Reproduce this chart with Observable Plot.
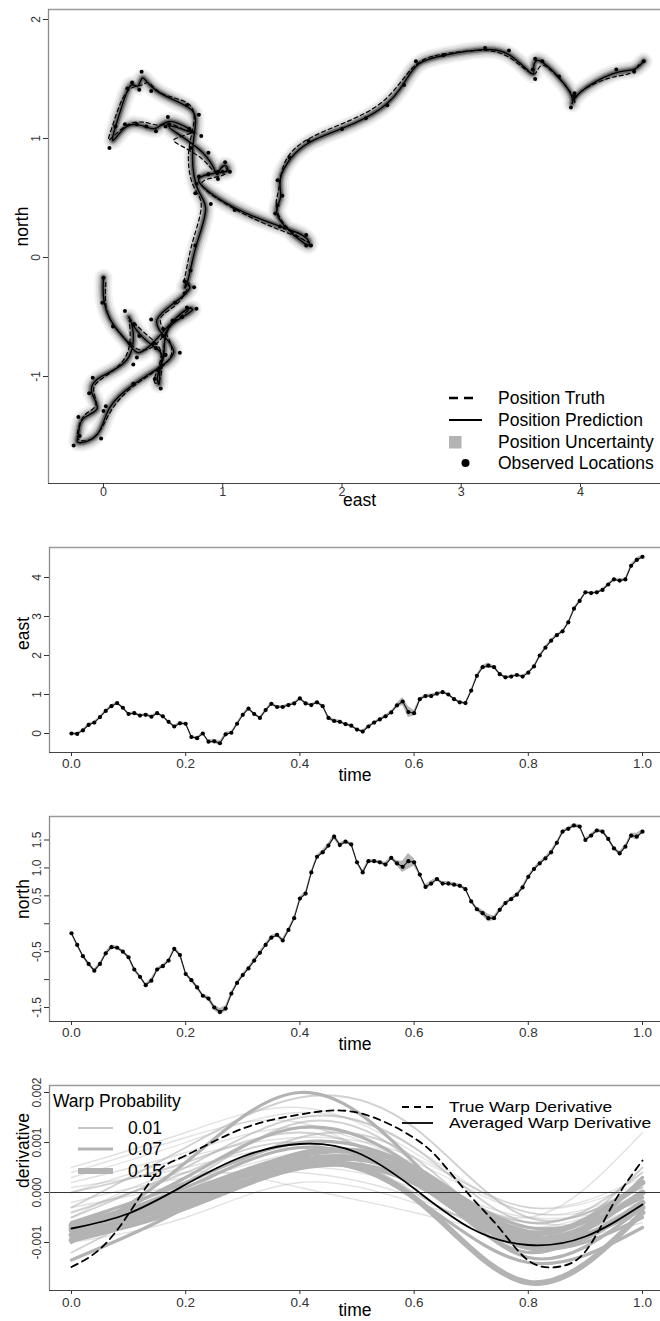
<!DOCTYPE html>
<html><head><meta charset="utf-8">
<script src="https://cdn.jsdelivr.net/npm/d3@7"></script>
<script src="https://cdn.jsdelivr.net/npm/@observablehq/plot@0.6"></script>
<style>
body{margin:0;background:#fff;overflow:hidden;font-family:"Liberation Sans",Arial,Helvetica,sans-serif;}
#wrap{position:relative;width:660px;height:1321px;overflow:hidden;}
.leg{position:absolute;white-space:nowrap;color:#000;}
.leg svg{position:absolute;overflow:visible;}
.leg span{position:absolute;}
</style></head><body><div id="wrap"></div>
<script>
// ---------------- DATA ----------------
const time = [0.00,0.01,0.02,0.03,0.04,0.05,0.06,0.07,0.08,0.09,
  0.10,0.11,0.12,0.13,0.14,0.15,0.16,0.17,0.18,0.19,
  0.20,0.21,0.22,0.23,0.24,0.25,0.26,0.27,0.28,0.29,
  0.30,0.31,0.32,0.33,0.34,0.35,0.36,0.37,0.38,0.39,
  0.40,0.41,0.42,0.43,0.44,0.45,0.46,0.47,0.48,0.49,
  0.50,0.51,0.52,0.53,0.54,0.55,0.56,0.57,0.58,0.59,
  0.60,0.61,0.62,0.63,0.64,0.65,0.66,0.67,0.68,0.69,
  0.70,0.71,0.72,0.73,0.74,0.75,0.76,0.77,0.78,0.79,
  0.80,0.81,0.82,0.83,0.84,0.85,0.86,0.87,0.88,0.89,
  0.90,0.91,0.92,0.93,0.94,0.95,0.96,0.97,0.98,0.99,
  1.00];
const east = [0.00,-0.01,0.08,0.22,0.28,0.42,0.58,0.70,0.78,0.66,
  0.50,0.52,0.46,0.48,0.43,0.52,0.44,0.30,0.18,0.26,
  0.25,-0.09,-0.12,0.00,-0.21,-0.20,-0.25,-0.02,0.02,0.25,
  0.48,0.64,0.50,0.40,0.60,0.76,0.68,0.68,0.73,0.77,
  0.90,0.77,0.73,0.80,0.70,0.40,0.32,0.30,0.24,0.20,
  0.10,0.05,0.18,0.28,0.36,0.44,0.54,0.72,0.82,0.55,
  0.52,0.88,0.96,0.96,1.02,1.06,1.00,0.88,0.80,0.78,
  1.10,1.48,1.70,1.74,1.70,1.52,1.44,1.46,1.50,1.46,
  1.56,1.72,2.00,2.20,2.38,2.52,2.62,2.85,3.20,3.40,
  3.62,3.60,3.62,3.68,3.82,3.95,3.92,3.95,4.30,4.45,
  4.53];
const north = [-0.17,-0.38,-0.58,-0.72,-0.84,-0.72,-0.53,-0.42,-0.43,-0.50,
  -0.60,-0.82,-0.95,-1.10,-1.02,-0.82,-0.76,-0.66,-0.45,-0.56,
  -0.90,-1.01,-1.14,-1.29,-1.34,-1.50,-1.58,-1.52,-1.25,-1.06,
  -0.92,-0.80,-0.66,-0.52,-0.38,-0.25,-0.20,-0.30,-0.11,0.10,
  0.45,0.54,0.92,1.20,1.28,1.40,1.56,1.41,1.47,1.42,
  1.10,0.92,1.12,1.12,1.10,1.06,1.18,1.08,1.02,1.12,
  1.10,0.88,0.66,0.72,0.80,0.72,0.72,0.70,0.68,0.62,
  0.40,0.26,0.19,0.10,0.10,0.25,0.37,0.44,0.52,0.65,
  0.84,0.98,1.08,1.17,1.28,1.45,1.65,1.70,1.76,1.74,
  1.50,1.58,1.67,1.65,1.52,1.35,1.26,1.38,1.58,1.56,
  1.65];
const posSd = [0.03,0.03,0.03,0.04,0.03,0.03,0.03,0.04,0.03,0.03,
  0.03,0.04,0.03,0.03,0.04,0.03,0.03,0.03,0.03,0.04,
  0.03,0.03,0.04,0.03,0.04,0.05,0.06,0.05,0.03,0.03,
  0.03,0.03,0.04,0.03,0.03,0.04,0.03,0.04,0.03,0.03,
  0.03,0.04,0.03,0.03,0.04,0.04,0.05,0.04,0.03,0.03,
  0.03,0.04,0.03,0.03,0.03,0.04,0.03,0.05,0.10,0.14,
  0.07,0.03,0.04,0.05,0.03,0.03,0.04,0.03,0.03,0.03,
  0.03,0.04,0.05,0.07,0.04,0.03,0.03,0.03,0.03,0.03,
  0.03,0.03,0.03,0.03,0.04,0.03,0.03,0.03,0.04,0.03,
  0.03,0.03,0.03,0.03,0.04,0.03,0.04,0.03,0.04,0.06,
  0.04];
const truthEast = [0.02,0.01,0.06,0.19,0.30,0.45,0.56,0.67,0.76,0.69,
  0.53,0.50,0.49,0.46,0.40,0.50,0.47,0.33,0.20,0.23,
  0.22,-0.06,-0.10,-0.03,-0.18,-0.22,-0.23,-0.05,0.05,0.22,
  0.45,0.61,0.53,0.43,0.63,0.73,0.71,0.66,0.70,0.74,
  0.86,0.74,0.69,0.78,0.74,0.46,0.38,0.33,0.27,0.16,
  0.06,0.02,0.14,0.26,0.39,0.47,0.57,0.70,0.78,0.60,
  0.56,0.85,0.93,0.99,1.00,1.04,1.03,0.91,0.83,0.80,
  1.13,1.45,1.67,1.73,1.72,1.55,1.46,1.44,1.47,1.48,
  1.53,1.70,1.97,2.18,2.36,2.50,2.64,2.88,3.18,3.38,
  3.60,3.63,3.66,3.71,3.85,3.97,3.94,3.97,4.27,4.42,
  4.49];
const truthNorth = [-0.21,-0.41,-0.55,-0.70,-0.80,-0.75,-0.56,-0.45,-0.40,-0.47,
  -0.57,-0.79,-0.98,-1.07,-1.05,-0.85,-0.73,-0.63,-0.48,-0.59,
  -0.87,-1.04,-1.11,-1.26,-1.31,-1.47,-1.55,-1.54,-1.28,-1.09,
  -0.95,-0.83,-0.63,-0.50,-0.41,-0.22,-0.17,-0.27,-0.08,0.13,
  0.48,0.57,0.88,1.16,1.32,1.36,1.50,1.44,1.45,1.38,
  1.05,0.95,1.08,1.15,1.13,1.10,1.14,1.05,1.06,1.00,
  0.98,0.84,0.69,0.75,0.77,0.75,0.69,0.67,0.65,0.59,
  0.38,0.24,0.16,0.12,0.12,0.23,0.35,0.47,0.55,0.67,
  0.86,1.00,1.11,1.20,1.31,1.48,1.67,1.72,1.75,1.72,
  1.52,1.55,1.62,1.62,1.48,1.32,1.28,1.40,1.53,1.53,
  1.62];

// warp derivative samples (values in units of 0.001)
const warpKnots = [0, 0.2, 0.4, 0.6, 0.8, 1.0];
const warpProb = [0.01,0.01,0.01,0.01,0.01,0.01,0.01,0.01,0.01,0.01,0.01,
  0.03,0.03,0.03,0.03,0.03,0.03,
  0.07,0.07,0.07,0.07,0.07,0.07,
  0.15,0.15,0.15,0.15,0.15];
const warpValues = [
  [0.3, 1.0, 1.6, 0.9, -0.4, 0.1],
  [0.5, 1.2, 1.7, 0.8, -0.3, 0.3],
  [-0.2, 0.3, 0.4, -0.1, -0.9, -0.6],
  [0.1, 0.5, 0.9, 0.3, -0.5, -0.2],
  [-1.0, -0.5, 0.2, -0.2, -0.7, -0.4],
  [0.2, 0.8, 1.3, 0.5, -0.5, 1.2],
  [-0.5, 0.4, 0.1, -0.4, -0.8, -0.3],
  [0.4, 1.1, 1.4, 0.2, -0.7, 0.0],
  [-0.3, 0.2, 0.8, 0.6, -0.4, -0.1],
  [-0.6, 0.0, 0.5, 0.1, -0.6, -0.5],
  [0.0, 0.7, 1.1, 0.7, -0.3, 0.2],
  [-0.3, 0.9, 1.9, 1.3, -0.5, 0.2],
  [-0.5, 0.5, 1.5, 0.9, -0.6, 0.4],
  [-1.2, 0.0, 1.1, 0.7, -0.9, 0.5],
  [0.0, 0.6, 1.2, 0.4, -0.6, 0.1],
  [-0.4, 0.4, 1.0, 0.0, -0.9, -0.3],
  [-0.7, 0.2, 1.4, 0.6, -1.2, 0.3],
  [-1.0, 0.6, 2.0, 0.6, -1.3, -0.3],
  [-0.8, 0.3, 1.3, 0.5, -1.0, 0.0],
  [-0.7, 0.1, 0.9, 0.2, -1.1, -0.5],
  [-1.35, -0.3, 0.8, 0.3, -1.2, 0.3],
  [-0.6, 0.2, 1.0, 0.5, -0.7, -0.1],
  [-0.9, -0.1, 0.7, -0.1, -1.4, -0.7],
  [-0.7, -0.1, 0.6, -0.1, -1.8, -0.4],
  [-0.75, -0.05, 0.65, 0.3, -1.1, -0.2],
  [-0.85, -0.2, 0.55, 0.4, -0.9, 0.0],
  [-0.65, 0.0, 0.75, 0.5, -0.8, 0.2],
  [-0.95, -0.3, 0.5, 0.2, -1.0, -0.3]
];
const derivTime = [0, 0.05, 0.1, 0.15, 0.2, 0.3, 0.4, 0.5, 0.6, 0.65, 0.7, 0.75, 0.8, 0.85, 0.9, 0.95, 1.0];
const trueDeriv = [-1.49, -1.13, -0.43, 0.40, 0.74, 1.28, 1.56, 1.60, 1.09, 0.58, -0.09, -0.72, -1.36, -1.49, -1.18, -0.20, 0.64];
const avgTime = [0, 0.1, 0.2, 0.3, 0.4, 0.5, 0.6, 0.7, 0.8, 0.9, 1.0];
const avgDeriv = [-0.72, -0.42, 0.16, 0.72, 0.97, 0.80, 0.08, -0.72, -1.05, -0.88, -0.24];

// tick labels
const eastTicks1 = [0, 1, 2, 3, 4];
const northTicks1 = [-1, 0, 1, 2];
const timeTicks = [0, 0.2, 0.4, 0.6, 0.8, 1.0];
const timeTickLabels = ["0.0", "0.2", "0.4", "0.6", "0.8", "1.0"];
const eastTicks2 = [0, 1, 2, 3, 4];
const northTicks3 = [-1.5, -1.0, -0.5, 0.0, 0.5, 1.0, 1.5];
const northTickLabels3 = ["-1.5", "", "-0.5", "", "0.5", "1.0", "1.5"];
const derivTicks = [-1, 0, 1, 2];
const derivTickLabels = ["-0.001", "0.000", "0.001", "0.002"];
const legend1Labels = ["Position Truth", "Position Prediction", "Position Uncertainty", "Observed Locations"];
const warpLegendTitle = "Warp Probability";
const warpLegendProbs = [0.01, 0.07, 0.15];
const warpLegendLabels = ["0.01", "0.07", "0.15"];
const derivLegendLabels = ["True Warp Derivative", "Averaged Warp Derivative"];

// ---------------- BUILD ----------------
const W = 660;
const FONT = '"Liberation Sans", Arial, Helvetica, sans-serif';
const wrap = document.getElementById("wrap");
function place(el, top) {
  el.style.position = "absolute"; el.style.left = "0px"; el.style.top = top + "px";
  wrap.appendChild(el);
}
const track = time.map((t, i) => ({t, east: east[i], north: north[i], sd: posSd[i]}));
const truth = time.map((t, i) => ({t, east: truthEast[i], north: truthNorth[i]}));
const lab = (ticks, labels) => { const m = new Map(ticks.map((d, i) => [d, labels[i]])); return d => m.get(d); };
const warpW = p => 1 + 32 * p;
const warpO = p => Math.min(1, 0.3 + 10 * p);

function frame(xDom, yDom) {
  return [
    Plot.ruleY([yDom[1]], {stroke: "#9a9a9a", strokeWidth: 1.3}),
    Plot.ruleX([xDom[0]], {stroke: "#8a8a8a", strokeWidth: 1.3}),
    Plot.ruleY([yDom[0]], {stroke: "#444", strokeWidth: 1.2})
  ];
}
function yAxis(ticks, fmt) {
  return Plot.axisY({ticks, tickFormat: fmt, tickRotate: -90, tickSize: 5, tickPadding: 4, fontSize: 12, label: null, color: "#333"});
}
function xAxis(ticks, fmt, pad, fs = 13.5) {
  return Plot.axisX({ticks, tickFormat: fmt, tickSize: 4, tickPadding: pad, fontSize: fs, label: null, color: "#333"});
}
function titles(xt, yt, xdy, xdx = 0) {
  return [
    Plot.text([xt], {text: d => d, frameAnchor: "bottom", dy: xdy, dx: xdx, fontSize: 17.5, fill: "#000"}),
    Plot.text([yt], {text: d => d, frameAnchor: "left", dx: -26, rotate: -90, fontSize: 17.5, fill: "#000"})
  ];
}

// Panel 1: trajectory
const x1 = [-0.461, 4.671], y1 = [-1.899, 2.084];
const haloLayers = [[18, 0.05], [14, 0.07], [10, 0.12], [7, 0.2], [4.5, 0.35]];
const p1 = Plot.plot({
  width: W, height: 530, marginLeft: 48, marginRight: 0, marginTop: 9, marginBottom: 47,
  style: {fontFamily: FONT, background: "white", overflow: "visible"},
  x: {domain: x1}, y: {domain: y1},
  marks: [
    ...haloLayers.map(([w, o]) => Plot.line(track, {x: "east", y: "north", stroke: "#000", strokeWidth: w, strokeOpacity: o, curve: "basis", strokeLinejoin: "round", strokeLinecap: "round"})),
    Plot.line(truth, {x: "east", y: "north", stroke: "#000", strokeWidth: 1.2, strokeDasharray: "4,3", curve: "basis"}),
    Plot.line(track, {x: "east", y: "north", stroke: "#000", strokeWidth: 1.4, curve: "basis"}),
    Plot.dot(track, {x: "east", y: "north", r: 2, fill: "#000"}),
    ...frame(x1, y1),
    xAxis(eastTicks1, d => String(d), 0, 12.5),
    yAxis(northTicks1, d => String(d)),
    ...titles("east", "north", 22, 5)
  ]
});
place(p1, 0);

// Panel 2: east vs time
const xt = [-0.0385, 1.0315];
const y2 = [-0.487, 4.769];
const p2 = Plot.plot({
  width: W, height: 270, marginLeft: 49, marginRight: 0, marginTop: 17, marginBottom: 48,
  style: {fontFamily: FONT, background: "white", overflow: "visible"},
  x: {domain: xt}, y: {domain: y2},
  marks: [
    Plot.areaY(track, {x: "t", y1: d => d.east - d.sd, y2: d => d.east + d.sd, fill: "#b5b5b5"}),
    Plot.line(track, {x: "t", y: "east", stroke: "#111", strokeWidth: 1.1}),
    Plot.dot(track, {x: "t", y: "east", r: 2.1, fill: "#000"}),
    ...frame(xt, y2),
    xAxis(timeTicks, lab(timeTicks, timeTickLabels), 1.5),
    yAxis(eastTicks2, d => String(d)),
    ...titles("time", "east", 28)
  ]
});
place(p2, 530);

// Panel 3: north vs time
const y3 = [-1.751, 1.921];
const p3 = Plot.plot({
  width: W, height: 260, marginLeft: 49, marginRight: 0, marginTop: 16, marginBottom: 39,
  style: {fontFamily: FONT, background: "white", overflow: "visible"},
  x: {domain: xt}, y: {domain: y3},
  marks: [
    Plot.areaY(track, {x: "t", y1: d => d.north - d.sd, y2: d => d.north + d.sd, fill: "#b5b5b5"}),
    Plot.line(track, {x: "t", y: "north", stroke: "#111", strokeWidth: 1.1}),
    Plot.dot(track, {x: "t", y: "north", r: 2.1, fill: "#000"}),
    ...frame(xt, y3),
    xAxis(timeTicks, lab(timeTicks, timeTickLabels), 2),
    yAxis(northTicks3, lab(northTicks3, northTickLabels3)),
    ...titles("time", "north", 28.5)
  ]
});
place(p3, 800);

// Panel 4: warp derivatives
const y4 = [-1.96, 2.14];
const warpMarks = warpValues.map((vals, i) =>
  Plot.line(warpKnots.map((t, j) => ({t, v: vals[j]})), {
    x: "t", y: "v", curve: "natural", stroke: "#b3b3b3",
    strokeWidth: warpW(warpProb[i]), strokeOpacity: warpO(warpProb[i])
  }));
const p4 = Plot.plot({
  width: W, height: 261, marginLeft: 49, marginRight: 0, marginTop: 25, marginBottom: 31,
  style: {fontFamily: FONT, background: "white", overflow: "visible"},
  x: {domain: xt}, y: {domain: y4},
  marks: [
    ...warpMarks,
    Plot.ruleY([0], {stroke: "#333", strokeWidth: 1}),
    Plot.line(derivTime.map((t, i) => ({t, v: trueDeriv[i]})), {x: "t", y: "v", curve: "natural", stroke: "#000", strokeWidth: 1.8, strokeDasharray: "7,5"}),
    Plot.line(avgTime.map((t, i) => ({t, v: avgDeriv[i]})), {x: "t", y: "v", curve: "natural", stroke: "#000", strokeWidth: 1.8}),
    ...frame(xt, y4),
    xAxis(timeTicks, lab(timeTicks, timeTickLabels), 2.5),
    yAxis(derivTicks, lab(derivTicks, derivTickLabels)),
    ...titles("time", "derivative", 25.5)
  ]
});
place(p4, 1060);

// ---------------- LEGENDS ----------------
function addLegend(html, fontSize) {
  const d = document.createElement("div");
  d.className = "leg";
  d.style.left = "0px"; d.style.top = "0px"; d.style.fontSize = fontSize + "px";
  d.style.fontFamily = FONT;
  d.innerHTML = html;
  wrap.appendChild(d);
}
// Panel 1 legend
{
  const rows = [398, 420, 442, 463];
  const sym = [
    `<line x1="0" x2="29" y1="0" y2="0" stroke="#000" stroke-width="2.4" stroke-dasharray="9,6"/>`,
    `<line x1="0" x2="33" y1="0" y2="0" stroke="#000" stroke-width="2.2"/>`,
    `<rect x="0" y="-6" width="12.5" height="12.5" fill="#b3b3b3"/>`,
    `<circle cx="16.5" cy="0" r="4" fill="#000"/>`
  ];
  let html = "";
  rows.forEach((cy, i) => {
    html += `<svg width="40" height="2" style="left:449px;top:${cy - 1}px"><g transform="translate(0,1)">${sym[i]}</g></svg>`;
    html += `<span style="left:498px;top:${cy - 10.5}px;line-height:21px">${legend1Labels[i]}</span>`;
  });
  addLegend(html, 17.5);
}
// Panel 4 legends
{
  let html = `<span style="left:53px;top:${1101 - 11}px;line-height:22px">${warpLegendTitle}</span>`;
  const rows = [1128, 1149, 1171];
  rows.forEach((cy, i) => {
    html += `<svg width="40" height="2" style="left:78px;top:${cy - 1}px"><line x1="0" x2="35" y1="1" y2="1" stroke="#b3b3b3" stroke-width="${warpW(warpLegendProbs[i])}"/></svg>`;
    html += `<span style="left:128px;top:${cy - 10}px;line-height:20px">${warpLegendLabels[i]}</span>`;
  });
  const rows2 = [1106.5, 1123];
  html += `<svg width="40" height="2" style="left:402px;top:${rows2[0] - 1}px"><line x1="0" x2="31" y1="1" y2="1" stroke="#000" stroke-width="1.8" stroke-dasharray="7,5"/></svg>`;
  html += `<svg width="40" height="2" style="left:402px;top:${rows2[1] - 1}px"><line x1="0" x2="31" y1="1" y2="1" stroke="#000" stroke-width="1.8"/></svg>`;
  rows2.forEach((cy, i) => {
    html += `<span style="left:449px;top:${cy - 8}px;line-height:16px;font-size:14.5px;transform:scaleX(1.2);transform-origin:left center">${derivLegendLabels[i]}</span>`;
  });
  addLegend(html, 17.5);
}
</script></body></html>
